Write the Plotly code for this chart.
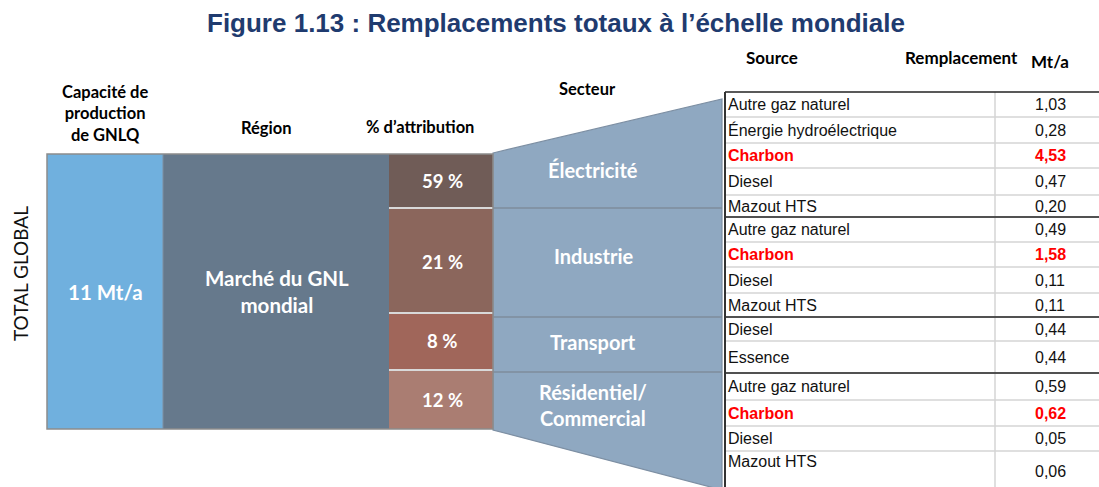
import plotly.graph_objects as go

# ---------------- data ----------------
title = "Figure 1.13 : Remplacements totaux à l’échelle mondiale"
side_label = "TOTAL GLOBAL"
col_headers = ["Capacité de<br>production<br>de GNLQ", "Région", "% d’attribution", "Secteur"]
table_headers = ["Source", "Remplacement", "Mt/a"]
capacity_label = "11 Mt/a"
region_label = "Marché du GNL<br>mondial"
sectors = ["Électricité", "Industrie", "Transport", "Résidentiel/<br>Commercial"]
attribution_pct = [59, 21, 8, 12]
sources = [
    ["Autre gaz naturel", "Énergie hydroélectrique", "Charbon", "Diesel", "Mazout HTS"],
    ["Autre gaz naturel", "Charbon", "Diesel", "Mazout HTS"],
    ["Diesel", "Essence"],
    ["Autre gaz naturel", "Charbon", "Diesel", "Mazout HTS"],
]
replacement_mt = [
    [1.03, 0.28, 4.53, 0.47, 0.20],
    [0.49, 1.58, 0.11, 0.11],
    [0.44, 0.44],
    [0.59, 0.62, 0.05, 0.06],
]
highlight_source = "Charbon"

# ---------------- layout geometry (pixels) ----------------
W, H = 1099, 487
blk_top, blk_bot = 154, 429
x_cap0, x_cap1 = 47, 163
x_reg1 = 389
x_pct1 = 493
pct_box_y = [(154, 207), (209, 312), (314, 369), (371, 429)]
pct_label_y = [181, 262, 341, 400]
sector_div_y = [208, 317, 372]
sector_label_y = [170, 256, 342, 405]
trap_x0, trap_x1 = 493, 722
trap_top_left, trap_top_right = 153, 99
trap_bot_left, trap_bot_right = 430, 490
tbl_x0, tbl_xdiv, tbl_x1 = 725, 995, 1099
row_edges = [92, 117, 143, 168, 195, 217, 242, 267, 293, 317, 341, 373, 400, 426, 451, 495]
sect_row_starts = [0, 5, 9, 11]

pct_colors = ["#705C57", "#8B665C", "#A0665A", "#AA7D72"]
cap_color = "#70B0DE"
reg_color = "#66798C"
sect_color = "#8FA8C1"

LATO = "Lato"
ARIAL = "Liberation Sans"

fig = go.Figure()
fig.add_trace(go.Scatter(x=[0, W], y=[0, H], mode="markers",
                         marker=dict(opacity=0), hoverinfo="skip", showlegend=False))

shapes = []
ann = []

def rect(x0, y0, x1, y1, fill, line="rgba(0,0,0,0)", lw=0):
    shapes.append(dict(type="rect", xref="x", yref="y", x0=x0, y0=y0, x1=x1, y1=y1,
                       fillcolor=fill, line=dict(color=line, width=lw), layer="below"))

def hline(x0, x1, y, color, lw):
    shapes.append(dict(type="line", xref="x", yref="y", x0=x0, x1=x1, y0=y, y1=y,
                       line=dict(color=color, width=lw)))

def vline(x, y0, y1, color, lw):
    shapes.append(dict(type="line", xref="x", yref="y", x0=x, x1=x, y0=y0, y1=y1,
                       line=dict(color=color, width=lw)))

def text(x, y, s, size, color="black", family=LATO, xanchor="center", angle=0):
    ann.append(dict(x=x, y=y, xref="x", yref="y", text=s, showarrow=False,
                    xanchor=xanchor, yanchor="middle", textangle=angle,
                    font=dict(size=size, color=color, family=family)))

# trapezoid (sector block)
shapes.append(dict(type="path", xref="x", yref="y",
                   path=f"M {trap_x0},{trap_top_left} L {trap_x1},{trap_top_right} L {trap_x1},{trap_bot_right} L {trap_x0},{trap_bot_left} Z",
                   fillcolor=sect_color, line=dict(color="#7D8FA3", width=1.2), layer="below"))
for y in sector_div_y:
    hline(trap_x0, trap_x1, y, "#7E8C9B", 1.5)

# left blocks
rect(x_cap0, blk_top, x_cap1, blk_bot, cap_color)
rect(x_cap1, blk_top, x_reg1, blk_bot, reg_color)
rect(x_reg1, blk_top, x_pct1, blk_bot, "#D9D9D9")
for (y0, y1), c in zip(pct_box_y, pct_colors):
    rect(x_reg1, y0, x_pct1, y1, c)
shapes.append(dict(type="rect", xref="x", yref="y", x0=x_cap0, y0=blk_top, x1=x_pct1, y1=blk_bot,
                   line=dict(color="#8C8C8C", width=1.5), fillcolor="rgba(0,0,0,0)"))
vline(x_cap1, blk_top, blk_bot, "#7F8FA0", 1)

# texts of left blocks
text(20, 274, side_label, 19, "#111111", angle=-90)
text((x_cap0 + x_cap1) / 2, 113, "<b>" + col_headers[0] + "</b>", 16.5)
text(266, 128, "<b>" + col_headers[1] + "</b>", 16.5)
text(420, 127, "<b>" + col_headers[2] + "</b>", 16.5)
text(587, 89, "<b>" + col_headers[3] + "</b>", 16.5)
text((x_cap0 + x_cap1) / 2, 292, "<b>" + capacity_label + "</b>", 20.5, "white")
text(277, 291, "<b>" + region_label + "</b>", 20.5, "white")
for p, y in zip(attribution_pct, pct_label_y):
    text(442, y, f"<b>{p} %</b>", 18.5, "white")
for s, y in zip(sectors, sector_label_y):
    text(593, y, "<b>" + s + "</b>", 20, "white")

# table headers
text(772, 57, "<b>" + table_headers[0] + "</b>", 17)
text(961, 57, "<b>" + table_headers[1] + "</b>", 17)
text(1050, 61, "<b>" + table_headers[2] + "</b>", 17)

# table grid
rect(tbl_x0, row_edges[0], tbl_x1 + 5, H + 5, "white")
for y in row_edges[1:-1]:
    hline(tbl_x0, tbl_x1, y, "#D4D4D4", 1.5)
vline(tbl_xdiv, row_edges[0], H + 5, "#D4D4D4", 1.5)
for k in sect_row_starts:
    hline(tbl_x0, tbl_x1, row_edges[k], "#222222", 1.5)
vline(tbl_x0, row_edges[0], H + 5, "#333333", 2)

# table contents
r = 0
for srcs, vals in zip(sources, replacement_mt):
    for s, v in zip(srcs, vals):
        y0, y1 = row_edges[r], row_edges[r + 1]
        last = (r == len(row_edges) - 2)
        yc = (y0 + y1) / 2
        y_src = y0 + 10 if last else yc
        y_val = y0 + 20 if last else yc
        red = (s == highlight_source)
        col = "#FF0000" if red else "#111111"
        st = f"<b>{s}</b>" if red else s
        vt = f"{v:.2f}".replace(".", ",")
        vt = f"<b>{vt}</b>" if red else vt
        text(tbl_x0 + 1, y_src, st, 16, col, ARIAL, xanchor="left")
        text(1050, y_val, vt, 16, col, ARIAL)
        r += 1

# title
text(556, 23, "<b>" + title + "</b>", 26, "#1F3B6F", ARIAL)

fig.update_layout(
    width=W, height=H, margin=dict(l=0, r=0, t=0, b=0),
    paper_bgcolor="white", plot_bgcolor="white",
    xaxis=dict(range=[0, W], visible=False, fixedrange=True),
    yaxis=dict(range=[H, 0], visible=False, fixedrange=True),
    shapes=shapes, annotations=ann, showlegend=False,
)
fig.write_html("out.html", config={"displayModeBar": False},
               post_script="document.body.style.margin='0';document.body.style.overflow='hidden';")
